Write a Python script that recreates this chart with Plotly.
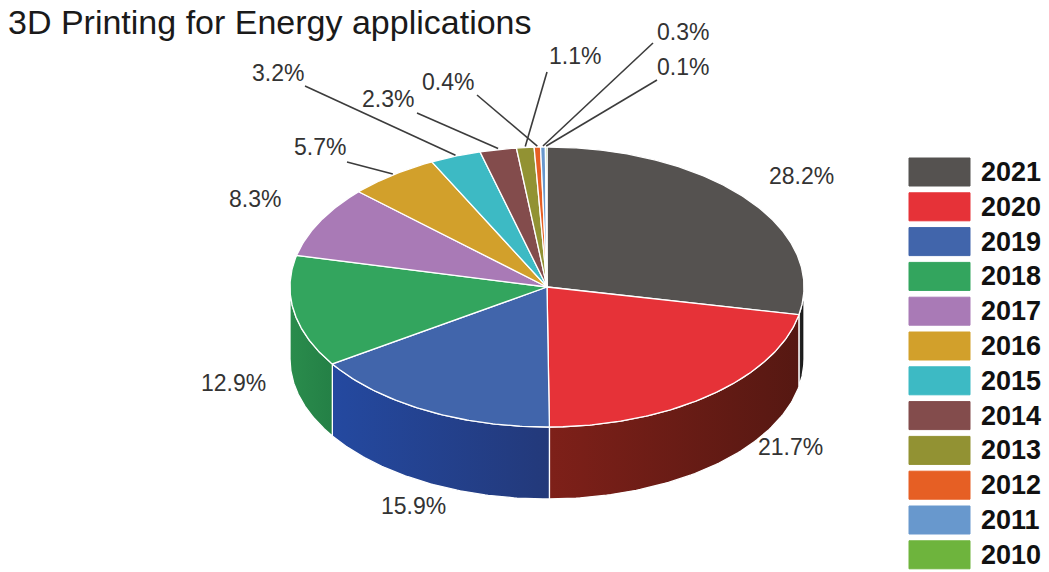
import numpy as np
import plotly.graph_objects as go

# ---- data -------------------------------------------------------------
years = ["2021", "2020", "2019", "2018", "2017", "2016",
         "2015", "2014", "2013", "2012", "2011", "2010"]
shares = [28.2, 21.7, 15.9, 12.9, 8.3, 5.7, 3.2, 2.3, 1.1, 0.4, 0.3, 0.1]

# ---- styling ----------------------------------------------------------
top_colors = ["#555250", "#E63238", "#4165AB", "#33A55E", "#A97AB6", "#D2A02B",
              "#3DBAC4", "#834C4C", "#929233", "#E65F24", "#6898CD", "#6EB43D"]
# side wall shading (lighter edge, darker edge) for the visible front walls
side_shades = {
    "2021": ("#2b2b2b", "#141414"),
    "2020": ("#7e2019", "#561812"),
    "2019": ("#2449a0", "#23397a"),
    "2018": ("#2a8c4c", "#248046"),
}

W, H = 1049, 572
CX, CY, RX, RY, DEPTH = 547, 287, 257, 140, 72
FONT = "Liberation Sans, Arial, sans-serif"

# label anchor points and leader line starts (figure pixels)
LABEL_XY = {
    "2021": (801, 176), "2020": (790, 447), "2019": (413, 506), "2018": (233, 383),
    "2017": (255, 199), "2016": (320, 147), "2015": (278, 73), "2014": (388, 99),
    "2013": (575, 56), "2012": (448, 82), "2011": (683, 32), "2010": (683, 67),
}
LEADER_FROM = {
    "2016": (347, 162), "2015": (305, 86), "2014": (417, 113), "2013": (547, 72),
    "2012": (477, 95), "2011": (653, 43), "2010": (657, 80),
}


def rim(theta_deg, dy=0.0):
    """Point on the top ellipse at a clockwise angle measured from 12 o'clock."""
    t = np.radians(theta_deg)
    return CX + RX * np.sin(t), CY - RY * np.cos(t) + dy


total = sum(shares)
bounds = np.concatenate([[0.0], np.cumsum(shares) / total * 360.0])

fig = go.Figure()

# ---- front side walls -------------------------------------------------
for i, yr in enumerate(years):
    a1, a2 = bounds[i], bounds[i + 1]
    lo, hi = max(a1, 90.0), min(a2, 270.0)
    if lo >= hi:
        continue
    th = np.linspace(lo, hi, 80)
    xt, yt = rim(th)
    xb, yb = rim(th[::-1], DEPTH)
    xs = np.concatenate([xt, xb, xt[:1]])
    ys = np.concatenate([yt, yb, yt[:1]])
    light, dark = side_shades.get(yr, (top_colors[i], top_colors[i]))
    fig.add_trace(go.Scatter(
        x=xs, y=ys, mode="lines", fill="toself",
        fillcolor=dark,
        fillgradient=dict(type="horizontal",
                          colorscale=[[0, light], [1, dark]],
                          start=float(xs.min()), stop=float(xs.max())),
        line=dict(color="white", width=1.3),
        hoverinfo="skip", showlegend=False))

# ---- top surface slices -----------------------------------------------
for i, yr in enumerate(years):
    a1, a2 = bounds[i], bounds[i + 1]
    th = np.linspace(a1, a2, max(4, int((a2 - a1) * 2)))
    xt, yt = rim(th)
    xs = np.concatenate([[CX], xt, [CX]])
    ys = np.concatenate([[CY], yt, [CY]])
    fig.add_trace(go.Scatter(
        x=xs, y=ys, mode="lines", fill="toself",
        fillcolor=top_colors[i],
        line=dict(color="white", width=1.3),
        hoverinfo="skip", showlegend=False))

# ---- percentage labels and leader lines -------------------------------
shapes = []
annotations = []
for i, yr in enumerate(years):
    mid = (bounds[i] + bounds[i + 1]) / 2
    lx, ly = LABEL_XY[yr]
    if yr in LEADER_FROM:
        ex, ey = rim(mid)
        sx, sy = LEADER_FROM[yr]
        shapes.append(dict(type="line", xref="x", yref="y",
                           x0=sx, y0=sy, x1=float(ex), y1=float(ey - 1),
                           line=dict(color="#3c3c3c", width=1.6)))
    annotations.append(dict(
        x=lx, y=ly, xref="x", yref="y", text=f"{shares[i]:.1f}%",
        showarrow=False, xanchor="center", yanchor="middle",
        font=dict(family=FONT, size=23, color="#333333")))

# ---- legend -------------------------------------------------------------
LEG_Y0, LEG_STEP, BOX_H = 172, 34.8, 28
for i, yr in enumerate(years):
    yc = LEG_Y0 + i * LEG_STEP
    shapes.append(dict(type="rect", xref="x", yref="y",
                       x0=909, x1=970, y0=yc - BOX_H / 2, y1=yc + BOX_H / 2,
                       fillcolor=top_colors[i], line=dict(color=top_colors[i], width=1)))
    annotations.append(dict(
        x=979, y=yc, xref="x", yref="y", text=f"<b>{yr}</b>",
        showarrow=False, xanchor="left", yanchor="middle",
        font=dict(family=FONT, size=27, color="#111111")))

# ---- title -------------------------------------------------------------
annotations.append(dict(
    x=6, y=22, xref="x", yref="y", text="3D Printing for Energy applications",
    showarrow=False, xanchor="left", yanchor="middle",
    font=dict(family=FONT, size=34, color="#1a1a1a")))

fig.update_layout(
    width=W, height=H,
    margin=dict(l=0, r=0, t=0, b=0),
    paper_bgcolor="white", plot_bgcolor="white",
    xaxis=dict(range=[0, W], visible=False, fixedrange=True),
    yaxis=dict(range=[H, 0], visible=False, fixedrange=True),
    shapes=shapes, annotations=annotations,
    showlegend=False,
)

fig.write_html("out.html")
